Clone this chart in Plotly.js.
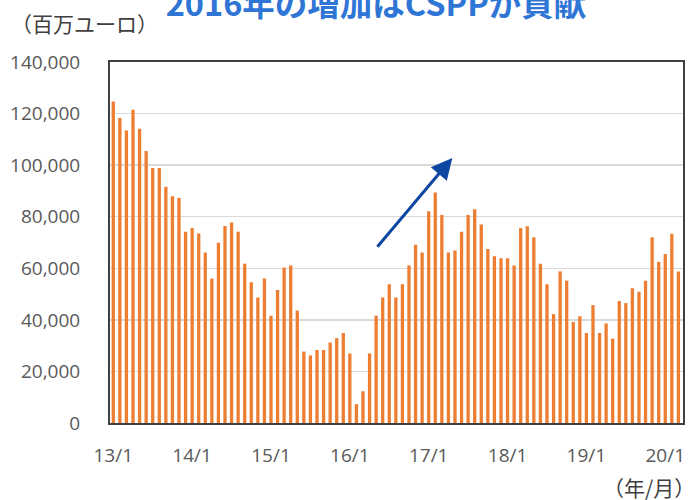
<!DOCTYPE html>
<html>
<head>
<meta charset="utf-8">
<script src="https://cdn.plot.ly/plotly-3.0.1.min.js"></script>
<style>html,body{margin:0;padding:0;background:#fff;}#chart{width:696px;height:500px;}</style>
</head>
<body>
<div id="chart"></div>
<script>
// Months 2013/1 .. 2020/3 (category labels "yy/m")
const startYear = 13, monthCount = 87;
const months = [];
for (let i = 0; i < monthCount; i++) {
  const y = startYear + Math.floor(i / 12);
  const m = (i % 12) + 1;
  months.push(y + "/" + m);
}

// Values (million EUR)
const v2013 = [124700, 118300, 113400, 121500, 114100, 105500, 98900, 98900, 91600, 87900, 87300, 74200];
const v2014 = [75600, 73500, 66100, 56000, 69900, 76400, 77800, 74200, 61800, 54600, 48700, 56000];
const v2015 = [41600, 51600, 60300, 61100, 43600, 27700, 26200, 28300, 28300, 31200, 32900, 34900];
const v2016 = [27000, 7300, 12300, 27000, 41600, 48700, 53800, 48700, 53800, 61100, 69100, 66100];
const v2017 = [82100, 89400, 80700, 66100, 66900, 74200, 80700, 82900, 77000, 67500, 64700, 63900];
const v2018 = [63900, 61100, 75600, 76300, 72000, 61800, 53800, 42200, 58800, 55200, 39200, 41400];
const v2019 = [34900, 45700, 34900, 38600, 32700, 47300, 46500, 52300, 50900, 55200, 72000, 62500];
const v2020 = [65500, 73400, 58800];
const values = [].concat(v2013, v2014, v2015, v2016, v2017, v2018, v2019, v2020);

const tickLabels = ["13/1", "14/1", "15/1", "16/1", "17/1", "18/1", "19/1", "20/1"];
const yTicks = [0, 20000, 40000, 60000, 80000, 100000, 120000, 140000];

const titleText = "2016年の増加はCSPPが貢献";
const yUnit = "（百万ユーロ）";
const xUnit = "（年/月）";

const FONT = "Open Sans, Noto Sans CJK JP, sans-serif";

const trace = {
  type: "bar",
  x: months,
  y: values,
  marker: {color: "#ED7D31", line: {width: 0}},
  hoverinfo: "x+y"
};

const layout = {
  width: 696,
  height: 500,
  margin: {l: 110, r: 13, t: 62, b: 77, pad: 0},
  paper_bgcolor: "#ffffff",
  plot_bgcolor: "#ffffff",
  bargap: 0.5,
  showlegend: false,
  font: {family: FONT, color: "#595959", size: 19},
  title: {
    text: "<b>" + titleText + "</b>",
    font: {family: "Noto Sans CJK JP, sans-serif", size: 32.5, color: "#2E75D6"},
    x: 376 / 696, xanchor: "center", xref: "container",
    y: 1 - 5 / 500, yanchor: "middle", yref: "container"
  },
  xaxis: {
    type: "category",
    range: [-0.5, 86.7],
    tickmode: "array",
    tickvals: tickLabels,
    ticktext: tickLabels,
    ticks: "",
    showgrid: false,
    showline: true, mirror: true, linecolor: "#404040", linewidth: 2,
    tickfont: {family: FONT, size: 19, color: "#595959"},
    ticklabelstandoff: 14,
    fixedrange: true
  },
  yaxis: {
    range: [0, 140000],
    tickmode: "array",
    tickvals: yTicks,
    tickformat: ",d",
    ticks: "",
    showgrid: true, gridcolor: "#d9d9d9", gridwidth: 1.5,
    zeroline: false,
    showline: true, mirror: true, linecolor: "#404040", linewidth: 2,
    tickfont: {family: FONT, size: 19, color: "#595959"},
    ticklabelstandoff: 24,
    fixedrange: true
  },
  annotations: [
    {
      xref: "paper", yref: "paper",
      x: (9 - 110) / 573, y: (423 - 23) / 361,
      xanchor: "left", yanchor: "middle",
      text: yUnit, showarrow: false,
      font: {family: "Noto Sans CJK JP, sans-serif", size: 21, color: "#404040"}
    },
    {
      xref: "paper", yref: "paper",
      x: (697 - 110) / 573, y: -(487 - 423) / 361,
      xanchor: "right", yanchor: "middle",
      text: xUnit, showarrow: false,
      font: {family: "Noto Sans CJK JP, sans-serif", size: 21, color: "#404040"}
    },
    {
      xref: "x", yref: "y", axref: "x", ayref: "y",
      x: 51.6, y: 102800,
      ax: 40, ay: 67800,
      showarrow: true, arrowhead: 2, arrowsize: 1.4, arrowwidth: 3,
      arrowcolor: "#0D47A1", text: ""
    }
  ]
};

Plotly.newPlot("chart", [trace], layout, {displayModeBar: false, staticPlot: true});
</script>
</body>
</html>
